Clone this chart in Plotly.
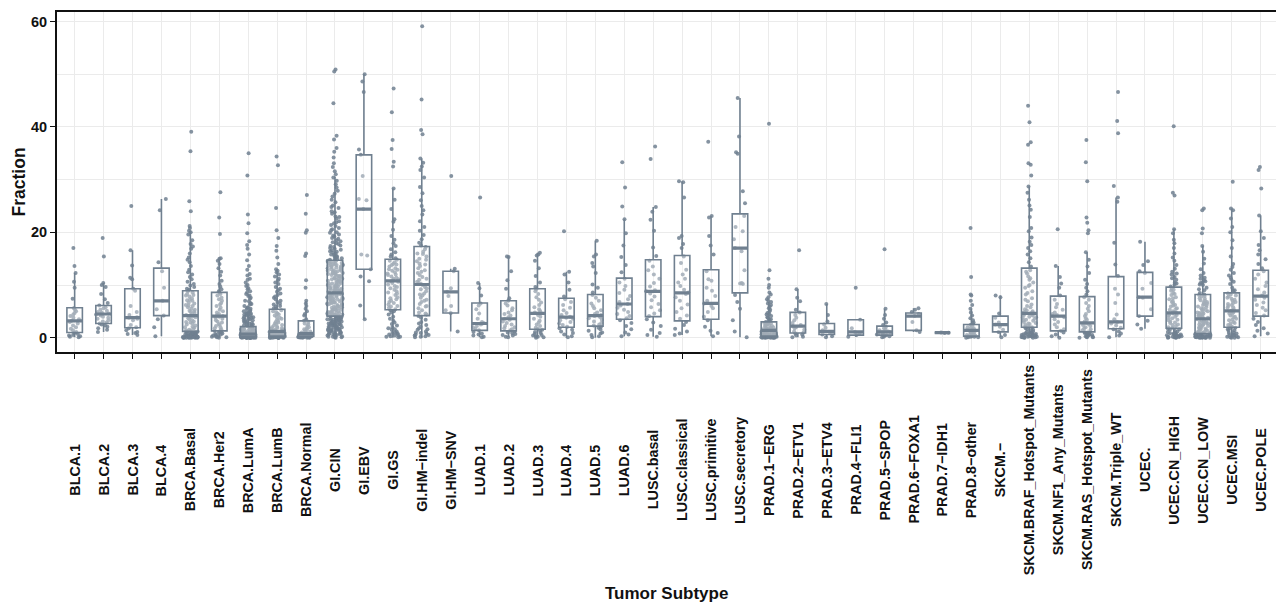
import plotly.graph_objects as go

categories = ["BLCA.1", "BLCA.2", "BLCA.3", "BLCA.4", "BRCA.Basal", "BRCA.Her2", "BRCA.LumA",
              "BRCA.LumB", "BRCA.Normal", "GI.CIN", "GI.EBV", "GI.GS", "GI.HM\u2212indel",
              "GI.HM\u2212SNV", "LUAD.1", "LUAD.2", "LUAD.3", "LUAD.4", "LUAD.5", "LUAD.6",
              "LUSC.basal", "LUSC.classical", "LUSC.primitive", "LUSC.secretory",
              "PRAD.1\u2212ERG", "PRAD.2\u2212ETV1", "PRAD.3\u2212ETV4", "PRAD.4\u2212FLI1",
              "PRAD.5\u2212SPOP", "PRAD.6\u2212FOXA1", "PRAD.7\u2212IDH1", "PRAD.8\u2212other",
              "SKCM.\u2212", "SKCM.BRAF_Hotspot_Mutants", "SKCM.NF1_Any_Mutants",
              "SKCM.RAS_Hotspot_Mutants", "SKCM.Triple_WT", "UCEC.", "UCEC.CN_HIGH",
              "UCEC.CN_LOW", "UCEC.MSI", "UCEC.POLE"]

# box statistics
q1 = [1.0, 2.7, 1.9, 4.2, 1.2, 1.3, 0.2, 0.3, 0.3, 4.1, 13.0, 5.3, 4.2, 4.7, 1.4, 1.3, 1.6, 2.0,
      2.2, 3.5, 4.0, 3.2, 3.5, 8.5, 0.3, 0.9, 0.6, 0.5, 0.5, 1.4, 0.95, 0.3, 1.1, 2.0, 1.3, 1.1,
      1.7, 4.1, 1.8, 0.8, 2.0, 4.1]
median = [3.2, 4.5, 3.8, 7.0, 4.2, 4.1, 0.7, 1.2, 0.8, 8.5, 24.4, 10.8, 10.1, 8.7, 2.7, 3.6, 4.6,
          3.9, 4.2, 6.4, 8.8, 8.5, 6.5, 17.0, 1.4, 2.2, 1.2, 1.1, 1.1, 4.1, 0.95, 1.4, 2.5, 4.6,
          4.1, 2.8, 3.0, 7.7, 4.7, 3.6, 5.1, 7.9]
q3 = [5.7, 6.1, 9.3, 13.2, 8.9, 8.6, 2.1, 5.4, 3.2, 14.7, 34.7, 14.9, 17.3, 12.6, 6.6, 7.0, 9.3,
      7.5, 8.2, 11.3, 14.8, 15.6, 12.9, 23.5, 3.0, 4.8, 2.7, 3.4, 2.2, 4.7, 0.95, 2.5, 4.1, 13.2,
      7.9, 7.8, 11.6, 12.4, 9.6, 8.2, 8.5, 12.8]
lower = [0.1, 1.1, 0.5, 0.3, 0.0, 0.0, 0.0, 0.0, 0.0, 0.0, 3.5, 0.0, 0.0, 1.2, 0.1, 0.1, 0.0, 0.0,
         0.0, 0.3, 0.2, 0.5, 0.3, 0.1, 0.0, 0.1, 0.1, 0.2, 0.1, 1.1, 0.9, 0.0, 0.1, 0.0, 0.0, 0.0,
         0.1, 1.7, 0.0, 0.0, 0.0, 0.3]
upper = [12.3, 10.4, 16.6, 26.3, 20.3, 15.1, 4.9, 13.0, 7.0, 30.6, 50.0, 28.3, 34.0, 13.1, 10.4,
         15.4, 16.1, 12.5, 18.4, 22.5, 24.8, 29.7, 23.1, 45.5, 6.8, 9.2, 6.4, 3.4, 5.5, 5.6, 1.0,
         5.5, 8.0, 28.7, 13.6, 16.2, 26.6, 18.2, 20.6, 17.4, 24.5, 23.2]

# individual sample values, one list per subtype
fraction_points = [
    [17.0, 13.6, 12.3, 10.6, 9.5, 7.4, 5.6, 5.3, 5.0, 4.7, 4.4, 4.1, 3.8, 3.5, 3.2, 3.0, 2.7, 2.3,
     2.0, 1.7, 1.4, 1.1, 0.9, 0.7, 0.5, 0.4, 0.3, 0.2, 0.1],
    [18.9, 15.4, 10.4, 10.0, 9.6, 8.3, 7.3, 6.6, 6.1, 5.8, 5.6, 5.3, 5.1, 4.9, 4.8, 4.6, 4.5, 4.4,
     4.2, 4.0, 3.8, 3.6, 3.3, 3.1, 2.9, 2.7, 2.5, 2.3, 2.1, 1.8, 1.5, 1.1],
    [25.0, 16.6, 13.7, 11.4, 11.1, 9.3, 8.9, 6.0, 4.9, 4.3, 3.9, 3.8, 3.6, 3.3, 2.4, 2.0, 1.8, 1.4,
     1.1, 0.9, 0.7, 0.5],
    [26.3, 24.2, 14.3, 12.6, 9.5, 7.0, 5.4, 4.2, 3.5, 2.0, 0.3],
    [39.1, 35.4, 25.9, 24.0, 21.2, 20.8, 20.3, 20.0, 19.6, 18.5, 17.8, 17.3, 16.9, 16.0, 15.2, 14.8,
     14.3, 13.6, 12.9, 12.4, 12.0, 11.5, 11.1, 10.6, 10.2, 9.9, 9.6, 9.3, 9.1, 8.8, 8.6, 8.3, 8.0,
     7.8, 7.5, 7.2, 7.0, 6.7, 6.5, 6.2, 6.0, 5.8, 5.5, 5.3, 5.1, 4.9, 4.7, 4.5, 4.3, 4.1, 3.9, 3.7,
     3.5, 3.3, 3.1, 2.9, 2.7, 2.5, 2.3, 2.1, 1.9, 1.7, 1.5, 1.4, 1.3, 1.2, 1.1, 1.0, 0.9, 0.8, 0.7,
     0.6, 0.5, 0.5, 0.4, 0.4, 0.3, 0.3, 0.2, 0.2, 0.2, 0.1, 0.1, 0.1, 0.1, 0.0, 0.0, 0.0, 0.0, 0.0,
     0.0, 0.0, 0.05, 0.1, 0.15, 0.2, 0.25, 0.3, 0.35, 0.45, 0.55, 0.65, 0.75, 0.85, 0.95, 1.05,
     1.15, 1.25, 2.0, 3.0, 4.0, 5.0, 6.1, 7.1, 8.1],
    [27.6, 22.8, 19.7, 15.1, 15.0, 14.6, 14.0, 13.2, 12.5, 11.8, 10.8, 10.2, 9.7, 9.2, 8.8, 8.6, 8.3,
     8.0, 7.6, 7.3, 7.0, 6.6, 6.3, 6.0, 5.7, 5.3, 5.0, 4.8, 4.5, 4.3, 4.1, 4.0, 3.8, 3.6, 3.3, 3.1,
     2.9, 2.6, 2.4, 2.2, 2.0, 1.8, 1.6, 1.4, 1.3, 1.1, 1.0, 0.8, 0.7, 0.6, 0.5, 0.4, 0.3, 0.3, 0.2,
     0.1, 0.1, 0.0],
    [35.0, 30.8, 23.4, 21.7, 19.8, 18.3, 17.6, 16.9, 15.8, 14.7, 13.6, 12.9, 12.1, 11.2, 10.5, 10.0,
     9.4, 8.8, 8.3, 7.9, 7.4, 7.0, 6.6, 6.3, 6.0, 5.7, 5.5, 5.2, 5.0, 4.8, 4.6, 4.4, 4.2, 4.0, 3.8,
     3.6, 3.4, 3.2, 3.0, 2.8, 2.6, 2.4, 2.2, 2.0, 1.9, 1.8, 1.7, 1.6, 1.5, 1.4, 1.3, 1.2, 1.1, 1.0,
     0.9, 0.9, 0.8, 0.8, 0.7, 0.7, 0.7, 0.6, 0.6, 0.6, 0.5, 0.5, 0.5, 0.4, 0.4, 0.4, 0.3, 0.3, 0.3,
     0.3, 0.2, 0.2, 0.2, 0.2, 0.1, 0.1, 0.1, 0.1, 0.1, 0.0, 0.0, 0.0, 0.0, 0.0,
     0.0, 0.0, 0.0, 0.0, 0.0, 0.0, 0.1, 0.1, 0.1, 0.1, 0.1, 0.1, 0.15, 0.15, 0.2, 0.2, 0.2, 0.25,
     0.25, 0.3, 0.3, 0.35, 0.35, 0.4, 0.45, 0.5, 0.55, 0.6, 0.65, 0.7, 0.75, 0.8, 0.85, 0.9, 1.0,
     1.05, 1.15, 1.25, 1.35, 1.45, 1.55, 1.65, 1.8, 1.95, 2.1, 2.3, 2.5, 2.7, 2.9, 3.1, 3.3, 3.5,
     3.7, 3.9, 4.1, 4.3, 4.5, 4.7, 5.0, 5.4, 5.8, 6.4, 6.9, 7.6, 8.0, 8.6, 9.2, 9.8, 11.0, 11.8],
    [34.4, 32.7, 24.6, 20.4, 18.9, 17.4, 16.5, 15.2, 14.0, 13.0, 12.4, 11.6, 10.9, 10.2, 9.6, 9.0,
     8.4, 7.8, 7.3, 6.8, 6.3, 5.9, 5.5, 5.2, 4.8, 4.4, 4.0, 3.6, 3.2, 2.9, 2.6, 2.3, 2.0, 1.8, 1.6,
     1.4, 1.3, 1.2, 1.1, 1.0, 0.9, 0.9, 0.8, 0.8, 0.7, 0.7, 0.6, 0.6, 0.5, 0.5, 0.5, 0.4, 0.4, 0.4,
     0.3, 0.3, 0.3, 0.2, 0.2, 0.2, 0.2, 0.1, 0.1, 0.1, 0.1, 0.0, 0.0, 0.0, 0.0,
     0.0, 0.0, 0.0, 0.05, 0.1, 0.1, 0.15, 0.2, 0.25, 0.3, 0.35, 0.4, 0.45, 0.5, 0.6, 0.7, 0.8, 0.9,
     1.0, 1.1, 1.2, 1.3, 1.5, 1.7, 1.9, 2.1, 2.4, 2.7, 3.0, 3.4, 3.8, 4.2, 4.6, 5.0, 5.6, 6.0, 6.5,
     7.0, 7.6, 8.1, 8.7, 9.3, 10.5, 11.2, 12.0, 12.7],
    [27.1, 23.5, 20.4, 19.9, 16.0, 15.5, 10.9, 9.5, 7.0, 6.0, 5.0, 4.2, 3.5, 3.0, 2.5, 2.0, 1.6,
     1.3, 1.1, 0.9, 0.8, 0.8, 0.7, 0.6, 0.5, 0.5, 0.4, 0.4, 0.3, 0.3, 0.2, 0.2, 0.1, 0.1, 0.1, 0.0,
     0.0, 0.0, 0.05, 0.1, 0.15, 0.2, 0.25, 0.3, 0.35, 0.45, 0.55, 0.65, 0.75, 0.85, 1.0, 1.2, 1.5,
     1.8, 2.2, 2.7, 3.2, 4.5, 5.5, 6.5],
    [50.9, 50.5, 44.5, 38.3, 37.6, 36.0, 35.3, 34.2, 33.1, 32.4, 31.6, 31.0, 30.4, 29.8, 29.1, 28.5,
     27.9, 27.3, 26.8, 26.2, 25.7, 25.1, 24.6, 24.0, 23.5, 23.0, 22.6, 22.1, 21.7, 21.2, 20.8, 20.4,
     20.0, 19.6, 19.2, 18.8, 18.5, 18.1, 17.8, 17.5, 17.2, 16.9, 16.6, 16.3, 16.0, 15.7, 15.4, 15.1,
     14.9, 14.6, 14.5, 14.3, 14.1, 14.0, 13.8, 13.7, 13.5, 13.3, 13.2, 13.0, 12.8, 12.7, 12.5, 12.3,
     12.2, 12.0, 11.8, 11.7, 11.5, 11.3, 11.2, 11.0, 10.8, 10.7, 10.5, 10.3, 10.2, 10.0, 9.8, 9.7,
     9.5, 9.4, 9.3, 9.1, 9.0, 8.9, 8.8, 8.7, 8.6, 8.5, 8.4, 8.3, 8.2, 8.0, 7.9, 7.8, 7.7, 7.5, 7.4,
     7.3, 7.2, 7.0, 6.9, 6.8, 6.7, 6.5, 6.4, 6.3, 6.2, 6.0, 5.9, 5.8, 5.7, 5.5, 5.4, 5.3, 5.2, 5.0,
     4.9, 4.8, 4.7, 4.6, 4.5, 4.4, 4.3, 4.2, 4.1, 4.0, 3.9, 3.8, 3.7, 3.6, 3.5, 3.4, 3.3, 3.2, 3.1,
     3.0, 2.9, 2.8, 2.7, 2.6, 2.5, 2.4, 2.3, 2.2, 2.1, 2.0, 1.9, 1.8, 1.7, 1.6, 1.5, 1.4, 1.3, 1.2,
     1.1, 1.0, 0.9, 0.8, 0.7, 0.6, 0.5, 0.4, 0.3, 0.2, 0.1,
     24.8, 23.8, 22.9, 21.9, 21.4, 20.6, 19.9, 19.4, 18.9, 18.3, 17.9, 17.4, 17.0, 16.7, 16.4, 16.1,
     15.8, 15.5, 15.3, 15.0, 14.8, 14.6, 14.4, 14.2, 14.0, 13.9, 13.6, 13.4, 13.1, 12.9, 12.6, 12.4,
     12.1, 11.9, 11.6, 11.4, 11.1, 10.9, 10.6, 10.4, 10.1, 9.9, 9.6, 9.4, 9.2, 8.9, 8.7, 8.6, 8.4,
     8.1, 7.9, 7.6, 7.4, 7.1, 6.9, 6.6, 6.4, 6.1, 5.9, 5.6, 5.4, 5.1, 4.9, 4.6, 4.4, 4.1, 3.9, 3.6,
     3.4, 3.1, 2.9, 2.6, 2.4, 2.1, 1.9, 1.6, 1.4, 1.1, 0.9, 0.6, 0.4, 0.2, 0.1, 0.0, 0.3, 0.7, 1.3,
     1.7, 2.3, 2.7, 3.3, 3.7, 4.3, 4.7, 5.3, 5.7, 6.3, 6.7, 7.3, 7.7, 8.3, 8.7, 9.3, 9.7, 10.3,
     10.7, 11.3, 11.7, 12.3, 12.7, 13.3, 13.7],
    [50.0, 48.6, 46.6, 35.7, 34.7, 30.7, 26.3, 26.1, 24.4, 15.8, 15.6, 13.0, 11.6, 10.7, 6.1, 3.5],
    [47.3, 42.8, 37.5, 35.8, 33.4, 32.5, 28.3, 26.2, 24.4, 22.5, 22.0, 20.5, 19.3, 18.6, 17.9, 17.4,
     16.8, 16.2, 15.8, 15.4, 15.1, 14.8, 14.6, 14.3, 14.0, 13.8, 13.5, 13.2, 13.0, 12.7, 12.4, 12.2,
     11.9, 11.6, 11.4, 11.1, 10.9, 10.7, 10.4, 10.1, 9.8, 9.4, 9.1, 8.8, 8.4, 8.1, 7.7, 7.3, 7.0,
     6.6, 6.3, 6.0, 5.7, 5.4, 5.2, 4.8, 4.4, 4.0, 3.6, 3.2, 2.9, 2.6, 2.3, 2.0, 1.8, 1.5, 1.2, 1.0,
     0.8, 0.6, 0.4, 0.3, 0.2, 0.1, 13.9, 12.9, 12.0, 11.2, 10.6, 9.6, 8.6, 7.5, 6.8, 5.9, 5.0, 1.6,
     0.9, 0.5, 0.2],
    [59.1, 45.2, 39.4, 38.6, 34.0, 33.2, 32.5, 31.8, 30.4, 28.6, 27.4, 26.1, 25.0, 24.2, 23.4, 22.1,
     21.0, 20.3, 19.5, 18.7, 18.0, 17.5, 17.2, 16.8, 16.3, 15.9, 15.4, 15.0, 14.5, 14.1, 13.6, 13.2,
     12.8, 12.3, 11.9, 11.5, 11.0, 10.6, 10.2, 10.0, 9.6, 9.2, 8.8, 8.4, 8.0, 7.6, 7.2, 6.8, 6.4,
     6.0, 5.6, 5.2, 4.8, 4.4, 4.1, 3.8, 3.4, 3.0, 2.7, 2.4, 2.1, 1.8, 1.5, 1.2, 1.0, 0.8, 0.6, 0.4,
     0.3, 0.2, 0.1, 16.0, 14.8, 13.9, 12.5, 11.2, 10.4, 9.4, 8.2, 7.0, 5.9, 4.6, 1.6, 0.9, 0.5],
    [30.7, 13.1, 12.6, 9.4, 8.7, 7.9, 6.0, 5.2, 4.7, 1.2],
    [26.6, 10.4, 9.4, 8.0, 6.5, 6.1, 5.4, 4.6, 3.6, 3.0, 2.8, 2.7, 2.5, 2.2, 2.0, 1.7, 1.4, 1.1,
     0.8, 0.6, 0.4, 0.2, 0.1],
    [15.4, 15.3, 12.6, 10.9, 9.3, 7.5, 7.0, 6.5, 6.1, 5.6, 5.2, 4.8, 4.5, 4.2, 3.9, 3.6, 3.4, 3.1,
     2.8, 2.5, 2.2, 2.0, 1.8, 1.6, 1.4, 1.2, 1.0, 0.9, 0.7, 0.5, 0.4, 0.2, 0.1],
    [16.1, 15.8, 15.6, 14.6, 13.2, 11.7, 10.5, 9.6, 9.2, 8.8, 8.3, 7.7, 7.2, 6.7, 6.2, 5.8, 5.4,
     5.0, 4.8, 4.6, 4.3, 4.0, 3.6, 3.2, 2.9, 2.5, 2.2, 1.9, 1.7, 1.5, 1.3, 1.1, 0.9, 0.7, 0.5, 0.4,
     0.3, 0.2, 0.1, 0.0],
    [20.2, 12.5, 12.0, 10.5, 9.1, 7.8, 7.3, 6.8, 6.2, 5.7, 5.2, 4.7, 4.3, 4.0, 3.8, 3.6, 3.3, 3.0,
     2.7, 2.4, 2.1, 1.8, 1.5, 1.2, 0.9, 0.6, 0.3, 0.1],
    [18.4, 15.8, 15.4, 14.2, 13.5, 12.3, 10.1, 9.5, 8.6, 8.1, 7.6, 7.0, 6.5, 6.0, 5.6, 5.2, 4.8,
     4.5, 4.3, 4.1, 3.9, 3.7, 3.4, 3.1, 2.8, 2.5, 2.3, 2.1, 1.9, 1.6, 1.3, 1.0, 0.8, 0.5, 0.3, 0.1],
    [33.3, 28.5, 24.9, 22.5, 19.8, 17.5, 15.3, 13.8, 12.4, 11.2, 10.5, 9.8, 9.1, 8.5, 7.9, 7.3, 6.8,
     6.4, 6.1, 5.7, 5.3, 4.9, 4.5, 4.1, 3.7, 3.3, 2.8, 2.2, 1.6, 1.0, 0.6, 0.3],
    [36.3, 33.9, 24.8, 23.9, 22.4, 20.3, 17.1, 15.5, 14.6, 13.5, 12.8, 12.0, 11.2, 10.4, 9.7, 9.0,
     8.8, 8.4, 7.8, 7.1, 6.4, 5.8, 5.2, 4.6, 4.1, 3.5, 2.9, 2.2, 1.5, 0.9, 0.5, 0.2],
    [29.7, 29.5, 26.6, 19.3, 18.9, 17.8, 17.0, 15.4, 14.2, 12.9, 12.0, 11.2, 10.5, 9.8, 9.1, 8.6,
     8.3, 7.7, 7.0, 6.3, 5.6, 4.9, 4.2, 3.6, 3.0, 2.4, 1.7, 1.2, 0.8, 0.5],
    [37.2, 23.1, 22.8, 19.3, 17.5, 15.8, 12.6, 11.1, 10.8, 9.5, 8.9, 7.9, 7.0, 6.5, 6.0, 5.6, 4.9,
     4.0, 3.3, 2.1, 1.3, 0.9, 0.3],
    [45.5, 38.2, 35.2, 34.9, 27.8, 25.5, 23.1, 21.0, 20.2, 18.7, 17.0, 16.4, 12.8, 10.4, 10.3, 10.2,
     8.1, 6.8, 5.5, 3.3, 1.2, 0.1],
    [40.6, 12.8, 11.2, 10.0, 9.5, 8.6, 8.2, 7.7, 7.3, 7.0, 6.8, 6.5, 6.2, 5.9, 5.6, 5.3, 5.0, 4.7,
     4.4, 4.1, 3.8, 3.5, 3.2, 3.0, 2.8, 2.6, 2.4, 2.2, 2.0, 1.9, 1.8, 1.7, 1.6, 1.5, 1.4, 1.4, 1.3,
     1.2, 1.1, 1.0, 0.9, 0.9, 0.8, 0.7, 0.7, 0.6, 0.6, 0.5, 0.5, 0.4, 0.4, 0.3, 0.3, 0.3, 0.2, 0.2,
     0.2, 0.1, 0.1, 0.1, 0.1, 0.0, 0.0, 0.0, 0.0, 0.0, 0.05, 0.05, 0.1, 0.15, 0.15, 0.2, 0.25,
     0.25, 0.3, 0.35, 0.4, 0.45, 0.5, 0.55, 0.65, 0.75, 0.85, 0.95, 1.05, 1.15, 1.25, 1.35, 1.55,
     1.75, 1.95, 2.15, 2.35, 2.55, 2.75, 2.9, 3.4, 3.9, 4.5],
    [16.6, 9.2, 7.6, 6.9, 5.3, 4.8, 4.3, 3.8, 3.3, 2.8, 2.4, 2.2, 2.0, 1.8, 1.5, 1.2, 1.0, 0.8, 0.6,
     0.4, 0.2, 0.1],
    [6.4, 4.3, 3.1, 2.5, 1.9, 1.4, 1.2, 1.0, 0.8, 0.6, 0.3, 0.1],
    [9.5, 3.4, 1.8, 1.1, 0.8, 0.5, 0.2],
    [16.8, 5.5, 4.3, 3.6, 2.9, 2.4, 2.1, 1.8, 1.6, 1.4, 1.2, 1.1, 1.0, 0.9, 0.8, 0.7, 0.6, 0.5, 0.4,
     0.3, 0.2, 0.1],
    [5.6, 5.3, 4.9, 4.5, 4.1, 3.0, 1.4, 1.1],
    [1.0, 0.95, 0.9],
    [20.8, 11.5, 8.2, 8.0, 7.0, 6.2, 5.5, 4.8, 4.2, 3.7, 3.3, 2.9, 2.6, 2.4, 2.2, 2.0, 1.8, 1.7, 1.6,
     1.5, 1.4, 1.3, 1.2, 1.1, 1.0, 0.9, 0.8, 0.7, 0.6, 0.5, 0.4, 0.3, 0.3, 0.2, 0.2, 0.1, 0.1, 0.0],
    [8.0, 7.7, 4.6, 3.8, 2.9, 2.5, 2.1, 1.5, 1.1, 0.5, 0.1],
    [44.0, 40.9, 37.1, 36.6, 33.1, 32.8, 30.8, 28.7, 27.5, 26.2, 25.1, 24.3, 22.9, 20.8, 20.2, 19.0,
     18.2, 17.6, 17.0, 16.4, 15.8, 15.1, 14.3, 13.5, 12.8, 12.2, 11.6, 11.0, 10.5, 10.0, 9.5, 8.8,
     8.2, 7.5, 6.9, 6.3, 5.8, 5.4, 5.0, 4.8, 4.6, 4.4, 4.2, 4.0, 3.8, 3.6, 3.4, 3.2, 3.0, 2.8, 2.6,
     2.4, 2.2, 2.0, 1.8, 1.6, 1.4, 1.2, 1.0, 0.9, 0.8, 0.7, 0.6, 0.5, 0.4, 0.3, 0.3, 0.2, 0.2, 0.1,
     0.1, 0.0, 0.0, 0.05, 0.15, 0.25, 0.35, 0.45, 0.55, 0.65, 0.85, 1.1, 1.5, 2.1, 2.7, 3.3, 3.9,
     4.3, 4.5, 4.7, 4.9, 5.2, 6.0, 7.2, 8.5, 9.8, 11.3, 12.5],
    [20.6, 13.6, 11.5, 10.3, 9.5, 8.0, 7.2, 6.4, 5.8, 5.3, 4.8, 4.5, 4.3, 4.1, 3.9, 3.5, 3.0, 2.5,
     2.0, 1.6, 1.3, 1.0, 0.6, 0.3, 0.0],
    [37.5, 33.3, 29.7, 22.8, 21.8, 20.4, 19.8, 16.2, 14.8, 13.5, 12.3, 11.0, 10.2, 9.5, 8.8, 8.2,
     7.7, 7.2, 6.6, 6.0, 5.5, 5.0, 4.5, 4.1, 3.7, 3.4, 3.1, 2.8, 2.6, 2.4, 2.2, 2.0, 1.8, 1.6, 1.4,
     1.2, 1.1, 1.0, 0.9, 0.8, 0.7, 0.6, 0.5, 0.4, 0.3, 0.2, 0.2, 0.1, 0.1, 0.0],
    [46.6, 41.1, 38.8, 28.8, 26.6, 25.8, 18.0, 13.9, 11.7, 9.3, 8.2, 6.6, 4.4, 3.5, 3.0, 2.7, 2.3,
     1.9, 1.6, 1.2, 0.8, 0.4, 0.1],
    [18.2, 14.5, 13.8, 12.6, 12.3, 10.4, 9.3, 7.7, 7.6, 5.4, 4.1, 3.2, 2.5, 1.7],
    [40.1, 27.5, 27.0, 20.6, 19.8, 18.6, 17.9, 17.0, 16.0, 15.2, 14.6, 13.8, 13.1, 12.5, 12.0, 11.5,
     11.0, 10.5, 10.1, 9.7, 9.3, 8.9, 8.5, 8.1, 7.7, 7.3, 6.9, 6.5, 6.2, 5.9, 5.6, 5.3, 5.0, 4.8,
     4.6, 4.4, 4.2, 4.0, 3.7, 3.4, 3.1, 2.8, 2.5, 2.2, 1.9, 1.7, 1.5, 1.3, 1.1, 0.9, 0.8, 0.7, 0.6,
     0.5, 0.4, 0.3, 0.3, 0.2, 0.2, 0.1, 0.1, 0.0, 0.0, 0.05, 0.15, 0.25, 0.45, 0.65, 0.85, 1.2,
     1.6, 2.0, 2.4, 2.9, 3.3, 3.8, 4.3, 4.9, 5.5, 6.1, 6.8, 7.5, 8.3, 9.1, 10.3, 11.3, 12.2],
    [24.5, 24.2, 20.7, 19.8, 17.4, 16.3, 15.0, 14.1, 13.0, 12.3, 11.8, 11.2, 10.7, 10.4, 10.0, 9.5,
     9.0, 8.5, 8.2, 7.9, 7.5, 7.1, 6.8, 6.5, 6.2, 5.9, 5.6, 5.3, 5.0, 4.8, 4.6, 4.4, 4.2, 4.0, 3.8,
     3.6, 3.4, 3.2, 3.0, 2.8, 2.6, 2.4, 2.2, 2.0, 1.8, 1.6, 1.4, 1.2, 1.0, 0.9, 0.8, 0.7, 0.6, 0.5,
     0.5, 0.4, 0.4, 0.3, 0.3, 0.2, 0.2, 0.2, 0.1, 0.1, 0.1, 0.0, 0.0, 0.0,
     0.0, 0.0, 0.05, 0.1, 0.15, 0.2, 0.25, 0.35, 0.45, 0.55, 0.65, 0.75, 0.85, 0.95, 1.1, 1.3, 1.5,
     1.7, 1.9, 2.1, 2.3, 2.5, 2.7, 2.9, 3.1, 3.3, 3.5, 3.7, 3.9, 4.1, 4.3, 4.5, 4.7, 4.9, 5.2, 5.5,
     5.8, 6.1, 6.4, 6.7, 7.0, 7.4, 7.8, 8.1, 9.2, 10.1, 10.5, 10.9, 11.4],
    [29.6, 24.5, 24.2, 22.6, 21.0, 20.0, 18.5, 17.0, 15.4, 14.0, 12.9, 11.8, 11.0, 10.2, 9.5, 8.9,
     8.4, 8.0, 7.6, 7.2, 6.8, 6.4, 6.0, 5.7, 5.4, 5.1, 4.8, 4.5, 4.2, 3.9, 3.6, 3.3, 3.0, 2.7, 2.4,
     2.1, 1.9, 1.6, 1.3, 1.0, 0.8, 0.6, 0.4, 0.2, 0.1, 0.0, 0.0, 0.1, 0.3, 0.5, 0.9, 1.4, 1.8, 2.3,
     2.8, 3.4, 4.0, 4.6, 5.2, 5.8, 6.2, 6.6, 7.0, 7.4, 7.8, 8.2, 9.0, 10.6, 11.4, 12.3, 13.4],
    [32.4, 31.8, 28.3, 23.2, 20.2, 18.9, 17.6, 16.6, 15.8, 14.9, 14.0, 13.2, 12.6, 12.0, 11.2, 10.5,
     9.8, 9.2, 8.6, 8.0, 7.6, 7.2, 6.7, 6.2, 5.7, 5.2, 4.7, 4.2, 3.6, 3.0, 2.4, 1.8, 1.3, 0.8, 0.3],
]

SLATE = "#708090"
FONT = "Liberation Sans, Arial, Helvetica, sans-serif"

pts_x, pts_y = [], []
for cat, vals in zip(categories, fraction_points):
    pts_x.extend([cat] * len(vals))
    pts_y.extend(vals)

fig = go.Figure()

# jittered sample points
fig.add_trace(go.Box(
    x=pts_x, y=pts_y, boxpoints="all", jitter=1.0, pointpos=0,
    fillcolor="rgba(0,0,0,0)", line=dict(color="rgba(0,0,0,0)", width=0),
    marker=dict(color=SLATE, size=4, opacity=0.85),
    whiskerwidth=0, showlegend=False, hoverinfo="y",
))

# boxes from summary statistics
fig.add_trace(go.Box(
    x=categories, q1=q1, median=median, q3=q3, lowerfence=lower, upperfence=upper,
    boxpoints=False, fillcolor="rgba(255,255,255,0.35)",
    line=dict(color=SLATE, width=1.6), whiskerwidth=0, showlegend=False,
))

# thicker median bars
fig.add_trace(go.Box(
    x=categories, q1=median, median=median, q3=median, lowerfence=median, upperfence=median,
    boxpoints=False, fillcolor="rgba(0,0,0,0)",
    line=dict(color=SLATE, width=3.2), whiskerwidth=0, showlegend=False, hoverinfo="skip",
))

annotations = []
for cat in categories:
    annotations.append(dict(
        x=cat, xref="x", y=-0.347, yref="paper", text="<b>" + cat + "</b>", textangle=-90,
        showarrow=False, xanchor="center", yanchor="middle",
        font=dict(family=FONT, size=14.3, color="#111111"),
    ))
annotations.append(dict(
    x=0.5, xref="paper", y=-0.709, yref="paper", text="<b>Tumor Subtype</b>",
    showarrow=False, xanchor="center", yanchor="middle",
    font=dict(family=FONT, size=17, color="#111111"),
))
annotations.append(dict(
    x=-0.0308, xref="paper", y=0.5, yref="paper", text="<b>Fraction</b>", textangle=-90,
    showarrow=False, xanchor="center", yanchor="middle",
    font=dict(family=FONT, size=17.5, color="#111111"),
))

fig.update_layout(
    width=1276, height=607,
    margin=dict(l=57, r=0, t=12, b=255),
    paper_bgcolor="white", plot_bgcolor="white",
    boxmode="overlay", boxgap=0.235,
    showlegend=False,
    annotations=annotations,
    font=dict(family=FONT, color="#111111"),
)
fig.update_xaxes(
    type="category", categoryorder="array", categoryarray=categories,
    range=[-0.61, 41.53], tickmode="array", tickvals=categories,
    showticklabels=False, ticks="outside", ticklen=5, tickwidth=1.2, tickcolor="#111111",
    showgrid=True, gridcolor="#ebebeb", gridwidth=1.2,
    showline=True, linecolor="#111111", linewidth=1.8, mirror=True,
)
fig.update_yaxes(
    range=[-2.71, 61.8], tick0=0, dtick=20,
    ticks="outside", ticklen=5, tickwidth=1.2, tickcolor="#111111",
    tickfont=dict(family=FONT, size=14.5, color="#111111", weight="bold"),
    showgrid=True, gridcolor="#ebebeb", gridwidth=1.2,
    minor=dict(dtick=10, showgrid=True, gridcolor="#ebebeb", gridwidth=1.2),
    zeroline=False, showline=True, linecolor="#111111", linewidth=1.8,
)

fig.write_html("out.html", config={"displayModeBar": False},
               post_script="document.body.style.margin='0px';")
